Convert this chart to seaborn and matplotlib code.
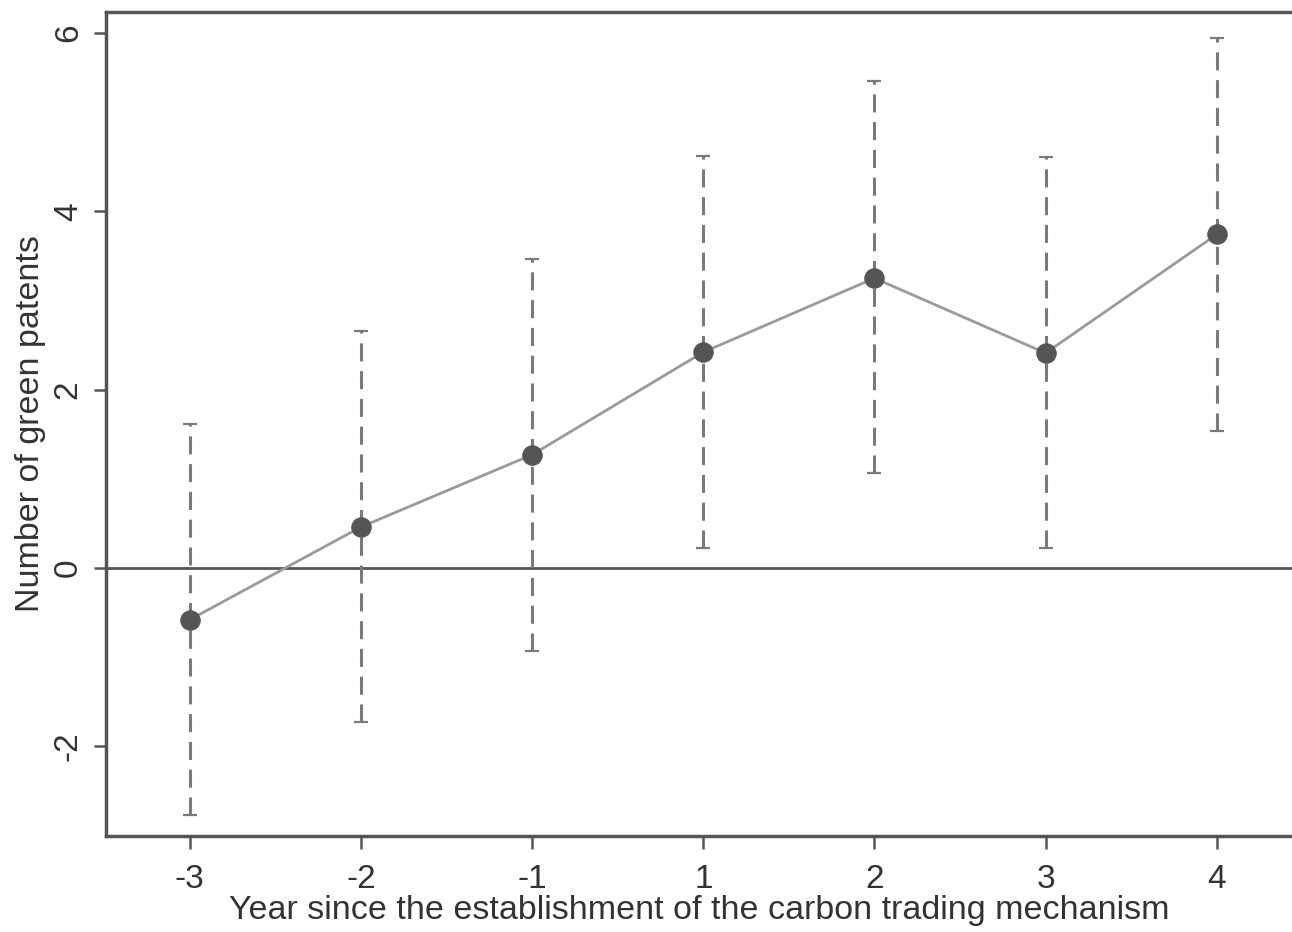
import numpy as np
import pandas as pd
import matplotlib
matplotlib.use('Agg')
import matplotlib.pyplot as plt
import seaborn as sns

# Dados
years = ['-3', '-2', '-1', '1', '2', '3', '4']
coef = [-0.58, 0.46, 1.27, 2.42, 3.25, 2.41, 3.74]
ci_low = [-2.77, -1.73, -0.93, 0.22, 1.07, 0.22, 1.54]
ci_high = [1.61, 2.66, 3.46, 4.62, 5.46, 4.61, 5.94]
yticks = [-2, 0, 2, 4, 6]

sns.set_theme(style='white')
plt.rcParams['font.family'] = ['Liberation Sans', 'DejaVu Sans']
plt.rcParams['lines.scale_dashes'] = False

df = pd.DataFrame({'pos': np.arange(len(years)), 'coef': coef,
                   'low': ci_low, 'high': ci_high})

fig = plt.figure(figsize=(12.92, 9.32), dpi=100)
ax = fig.add_axes([106 / 1292, 1 - 836 / 932, 1 - 106 / 1292, (836 - 12) / 932])

# intervalos de confiança tracejados
eb = ax.errorbar(df['pos'], df['coef'],
                 yerr=[df['coef'] - df['low'], df['high'] - df['coef']],
                 fmt='none', ecolor='#7a7a7a', elinewidth=2.2,
                 capsize=5, capthick=1.6, zorder=2)
eb[2][0].set_linestyle((0, (13, 7)))

ax.axhline(0, color='#555555', lw=2, zorder=1)

sns.lineplot(data=df, x='pos', y='coef', ax=ax, color='#9a9a9a', lw=2,
             marker='o', markersize=14, markerfacecolor='#555555',
             markeredgecolor='#555555', zorder=3)

ax.set_xlim(-0.49, 6.44)
ax.set_ylim(-3.006, 6.235)
ax.set_xticks(df['pos'])
ax.set_xticklabels(years)
ax.set_yticks(yticks)
ax.set_yticklabels([str(t) for t in yticks], rotation=90, va='center')

for side in ['left', 'bottom', 'top']:
    ax.spines[side].set_color('#555555')
    ax.spines[side].set_linewidth(2.5)
ax.spines['right'].set_visible(False)

ax.tick_params(axis='both', direction='out', length=9, width=1.8,
               color='#555555', labelsize=24, labelcolor='#333333',
               bottom=True, left=True)
ax.tick_params(axis='x', pad=11)
ax.tick_params(axis='y', pad=7)

ax.set_xlabel('Year since the establishment of the carbon trading mechanism',
              fontsize=24.5, color='#333333', labelpad=0)
ax.set_ylabel('Number of green patents', fontsize=24.5, color='#333333',
              labelpad=5)

fig.savefig('out.png', dpi=100)
